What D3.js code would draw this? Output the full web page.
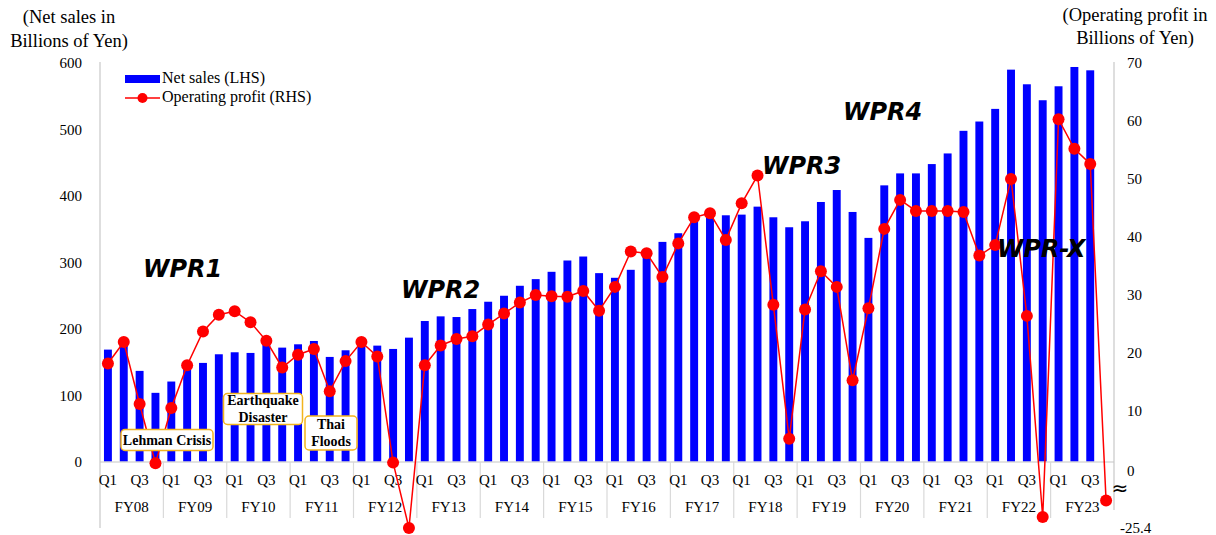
<!DOCTYPE html>
<html>
<head>
<meta charset="utf-8">
<script src="https://cdn.jsdelivr.net/npm/d3@7"></script>
<style>
  html, body { margin: 0; padding: 0; background: #fff; }
  svg { display: block; }
  text { fill: #000; }
</style>
</head>
<body>
<svg id="chart" width="1216" height="535" font-family="'Liberation Serif', 'Times New Roman', serif"></svg>
<script>
// Quarterly net sales (billions of yen) and operating profit (billions of yen)
const fiscalYears = ["FY08","FY09","FY10","FY11","FY12","FY13","FY14","FY15",
                     "FY16","FY17","FY18","FY19","FY20","FY21","FY22","FY23"];
const quarters = ["Q1","Q2","Q3","Q4"];
const shownQuarterLabels = ["Q1","Q3"];

const netSales = [
  169, 180, 137, 104,   // FY08
  121, 142, 149, 162,   // FY09
  165, 164, 177, 172,   // FY10
  177, 182, 158, 168,   // FY11
  178, 175, 170, 187,   // FY12
  212, 219, 218, 230,   // FY13
  241, 250, 265, 275,   // FY14
  286, 303, 309, 284,   // FY15
  277, 289, 310, 331,   // FY16
  344, 362, 369, 371,   // FY17
  372, 384, 368, 353,   // FY18
  362, 391, 409, 376,   // FY19
  337, 416, 434, 434,   // FY20
  448, 464, 498, 512,   // FY21
  531, 590, 568, 544,   // FY22
  565, 594, 589, null   // FY23
];

const operatingProfit = [
  18.2, 21.9, 11.2, 1.0,    // FY08
  10.5, 17.9, 23.7, 26.6,   // FY09
  27.2, 25.3, 22.1, 17.5,   // FY10
  19.7, 20.7, 13.4, 18.6,   // FY11
  21.9, 19.4, 1.1, -25.4,   // FY12
  17.9, 21.3, 22.4, 22.9,   // FY13
  24.9, 26.8, 28.7, 30.0,   // FY14
  29.8, 29.7, 30.7, 27.3,   // FY15
  31.4, 37.5, 37.2, 33.1,   // FY16
  38.9, 43.4, 44.1, 39.5,   // FY17
  45.8, 50.6, 28.3, 5.2,    // FY18
  27.5, 34.1, 31.4, 15.3,   // FY19
  27.7, 41.4, 46.4, 44.5,   // FY20
  44.5, 44.5, 44.3, 36.8,   // FY21
  38.6, 50.0, 26.4, -20.7,  // FY22
  60.3, 55.2, 52.6, -13.6   // FY23
];

const leftTicks = [0, 100, 200, 300, 400, 500, 600];
const rightTicks = [0, 10, 20, 30, 40, 50, 60, 70];
const rightMin = -25.4;   // lowest value shown below the axis break

const phases = [
  { text: "WPR1", x: 143, y: 270 },
  { text: "WPR2", x: 401, y: 291 },
  { text: "WPR3", x: 762, y: 167 },
  { text: "WPR4", x: 843, y: 113 },
  { text: "WPR-X", x: 997, y: 250 }
];

const events = [
  { lines: ["Lehman Crisis"], cx: 167, cy: 440, w: 92, h: 21 },
  { lines: ["Earthquake", "Disaster"], cx: 263, cy: 409, w: 79, h: 31 },
  { lines: ["Thai", "Floods"], cx: 331, cy: 433, w: 52, h: 34 }
];

// ---------------------------------------------------------------
const serif = "'Liberation Serif', 'Times New Roman', serif";
const sans = "'DejaVu Sans', sans-serif";
const svg = d3.select("#chart");
const left = 100, right = 1114, baseY = 462, topY = 63;

const periods = fiscalYears.flatMap(fy => quarters.map(q => fy + " " + q));
const rows = periods.map((p, i) => ({
  key: p, fy: p.split(" ")[0], q: p.split(" ")[1],
  sales: netSales[i], profit: operatingProfit[i]
}));

const x = d3.scaleBand().domain(periods).range([left, right])
  .paddingInner(0.5).paddingOuter(0.25);
const yL = d3.scaleLinear().domain([0, 600]).range([baseY, topY]);
// profit scale is compressed below zero (axis break)
const yR = d3.scaleLinear().domain([rightMin, 0, 70]).range([528, 469, topY]);

const step = x.step();
const cx = k => x(k) + x.bandwidth() / 2;

// bars
svg.append("g").selectAll("rect")
  .data(rows.filter(d => d.sales != null))
  .join("rect")
  .attr("x", d => x(d.key))
  .attr("width", x.bandwidth())
  .attr("y", d => yL(d.sales))
  .attr("height", d => yL(0) - yL(d.sales))
  .attr("fill", "#0000ff");

// horizontal baseline
svg.append("line")
  .attr("x1", left).attr("x2", right)
  .attr("y1", baseY).attr("y2", baseY)
  .attr("stroke", "#d9d9d9").attr("stroke-width", 1.5);

// fiscal-year separators
svg.append("g").selectAll("line")
  .data(fiscalYears.slice(1))
  .join("line")
  .attr("x1", (d) => x(d + " Q1") - x.paddingInner() * step / 2)
  .attr("x2", (d) => x(d + " Q1") - x.paddingInner() * step / 2)
  .attr("y1", baseY).attr("y2", 518)
  .attr("stroke", "#d9d9d9").attr("stroke-width", 1.2);

// left axis
svg.append("line").attr("x1", left).attr("x2", left)
  .attr("y1", topY - 1).attr("y2", 528)
  .attr("stroke", "#c8c8c8").attr("stroke-width", 1.2);
const gL = svg.append("g").attr("transform", `translate(${left},0)`)
  .call(d3.axisLeft(yL).tickValues(leftTicks).tickSize(0).tickPadding(18));
gL.select(".domain").remove();
gL.attr("font-family", serif).attr("font-size", 15);

// right axis
svg.append("line").attr("x1", right).attr("x2", right)
  .attr("y1", topY - 1).attr("y2", 510)
  .attr("stroke", "#c8c8c8").attr("stroke-width", 1.2);
const gR = svg.append("g").attr("transform", `translate(${right},0)`)
  .call(d3.axisRight(yR).tickValues(rightTicks.concat([rightMin]))
    .tickSize(0).tickPadding(13)
    .tickFormat(d => d < 0 ? "-" + Math.abs(d) : d));
gR.select(".domain").remove();
gR.attr("font-family", serif).attr("font-size", 15);
gR.selectAll("text")
  .attr("dx", d => d < 0 ? -7 : 0)
  .attr("dy", d => d === 0 ? "0.4em" : "0.32em");

// axis break mark
svg.append("text").attr("x", 1120).attr("y", 489)
  .attr("text-anchor", "middle").attr("dominant-baseline", "middle")
  .attr("font-size", 20).attr("font-family", sans)
  .text("\u2248");

// quarter labels
const gX = svg.append("g").attr("transform", `translate(0,${baseY})`)
  .call(d3.axisBottom(x).tickSize(0).tickPadding(12)
    .tickFormat(k => shownQuarterLabels.includes(k.split(" ")[1]) ? k.split(" ")[1] : ""));
gX.select(".domain").remove();
gX.attr("font-family", serif).attr("font-size", 15);

// fiscal year labels
svg.append("g").selectAll("text")
  .data(fiscalYears)
  .join("text")
  .attr("x", d => (x(d + " Q1") + x(d + " Q4") + x.bandwidth()) / 2)
  .attr("y", 509)
  .attr("text-anchor", "middle").attr("dominant-baseline", "middle")
  .attr("font-size", 15)
  .text(d => d);

// operating profit line
const line = d3.line().x(d => cx(d.key)).y(d => yR(d.profit));
svg.append("path").datum(rows)
  .attr("d", line).attr("fill", "none")
  .attr("stroke", "#ff0000").attr("stroke-width", 1.5);
svg.append("g").selectAll("circle")
  .data(rows).join("circle")
  .attr("cx", d => cx(d.key)).attr("cy", d => yR(d.profit))
  .attr("r", 6).attr("fill", "#ff0000");

// axis titles
const titleL = svg.append("text").attr("text-anchor", "middle").attr("font-size", 18.5);
titleL.append("tspan").attr("x", 69).attr("y", 23).text("(Net sales in");
titleL.append("tspan").attr("x", 69).attr("y", 47).text("Billions of Yen)");
const titleR = svg.append("text").attr("text-anchor", "middle").attr("font-size", 18.5);
titleR.append("tspan").attr("x", 1135).attr("y", 21).text("(Operating profit in");
titleR.append("tspan").attr("x", 1135).attr("y", 44).text("Billions of Yen)");

// legend
const lg = svg.append("g");
lg.append("rect").attr("x", 125).attr("y", 75).attr("width", 35).attr("height", 8)
  .attr("fill", "#0000ff");
lg.append("text").attr("x", 162).attr("y", 79).attr("dominant-baseline", "middle")
  .attr("font-size", 16).text("Net sales (LHS)");
lg.append("line").attr("x1", 125).attr("x2", 160).attr("y1", 98).attr("y2", 98)
  .attr("stroke", "#ff0000").attr("stroke-width", 1.5);
lg.append("circle").attr("cx", 142.5).attr("cy", 98).attr("r", 5).attr("fill", "#ff0000");
lg.append("text").attr("x", 162).attr("y", 98).attr("dominant-baseline", "middle")
  .attr("font-size", 16).text("Operating profit (RHS)");

// event call-outs
const ev = svg.append("g").selectAll("g").data(events).join("g");
ev.append("rect")
  .attr("x", d => d.cx - d.w / 2).attr("y", d => d.cy - d.h / 2)
  .attr("width", d => d.w).attr("height", d => d.h)
  .attr("rx", 4).attr("fill", "#fff")
  .attr("stroke", "#f2b41e").attr("stroke-width", 1.5);
ev.each(function(d) {
  const t = d3.select(this).append("text")
    .attr("text-anchor", "middle").attr("font-size", 14).attr("font-weight", "bold");
  const n = d.lines.length;
  d.lines.forEach((s, i) => {
    t.append("tspan").attr("x", d.cx)
      .attr("y", d.cy + (i - (n - 1) / 2) * 17)
      .attr("dy", "0.35em").text(s);
  });
});

// programme phase labels
svg.append("g").selectAll("text").data(phases).join("text")
  .attr("x", d => d.x).attr("y", d => d.y)
  .attr("dominant-baseline", "middle")
  .attr("font-family", sans)
  .attr("font-weight", "bold").attr("font-style", "italic")
  .attr("font-size", 24)
  .text(d => d.text);
</script>
</body>
</html>
